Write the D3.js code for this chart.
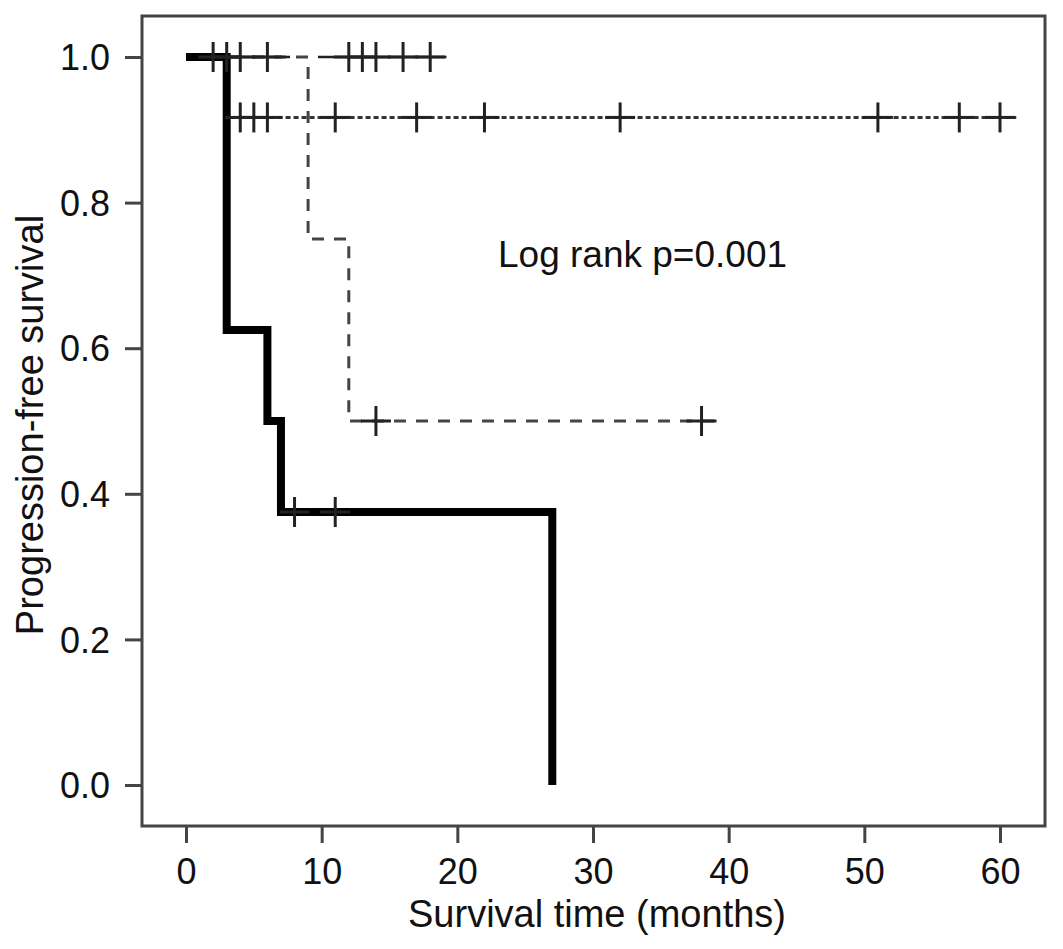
<!DOCTYPE html>
<html>
<head>
<meta charset="utf-8">
<script src="https://cdn.jsdelivr.net/npm/d3@7"></script>
<style>
  html, body { margin: 0; padding: 0; background: #fff; }
  svg text { font-family: "Liberation Sans", Helvetica, Arial, sans-serif; fill: #111; }
</style>
</head>
<body>
<div id="chart"></div>
<script>
// Kaplan-Meier steps per group: [time, survival]
const stepsThick = [[0, 1], [3, 0.625], [6, 0.5], [7, 0.375], [27, 0]];
const stepsDashed = [[0, 1], [9, 0.75], [12, 0.5]];
const stepsDotted = [[0, 1], [3, 0.917]];
const stepsThin = [[0, 1]];

// last follow-up time of each group
const endThick = 27;
const endDashed = 39.5;
const endDotted = 61.2;
const endThin = 19.2;

// censored times
const censorThick = [8, 11];
const censorDashed = [14, 38];
const censorDotted = [4, 5, 6, 11, 17, 22, 32, 51, 57, 60];
const censorThin = [2, 3, 4, 6, 12, 13, 14, 16, 18];

const xTicks = [0, 10, 20, 30, 40, 50, 60];
const yTicks = [0, 0.2, 0.4, 0.6, 0.8, 1.0];

const width = 1063, height = 949;
const box = { left: 142, right: 1045, top: 16, bottom: 826 };

const svg = d3.select("#chart")
  .append("svg")
  .attr("width", width)
  .attr("height", height);

const x = d3.scaleLinear().domain([0, 60]).range([186, 1000]);
const y = d3.scaleLinear().domain([0, 1]).range([785, 57]);

// step value at time t
const survAt = (steps, t) => {
  let s = steps[0][1];
  steps.forEach((d) => { if (d[0] <= t) s = d[1]; });
  return s;
};

const line = d3.line()
  .x((d) => x(d[0]))
  .y((d) => y(d[1]))
  .curve(d3.curveStepAfter);

const curves = [
  { steps: stepsDashed, end: endDashed, censor: censorDashed, width: 3, color: "#444", dash: "12,10" },
  { steps: stepsDotted, end: endDotted, censor: censorDotted, width: 3, color: "#333", dash: "5,3" },
  { steps: stepsThin, end: endThin, censor: censorThin, width: 2.5, color: "#222", dash: "104,28,400,30" },
  { steps: stepsThick, end: endThick, censor: censorThick, width: 8, color: "#000", dash: null },
];

curves.forEach((c) => {
  const pts = c.steps.slice();
  const last = pts[pts.length - 1];
  if (last[0] < c.end) pts.push([c.end, last[1]]);
  svg.append("path")
    .datum(pts)
    .attr("d", line)
    .attr("fill", "none")
    .attr("stroke", c.color)
    .attr("stroke-width", c.width)
    .attr("stroke-dasharray", c.dash);
});

// censor marks (+)
const half = 15;
curves.forEach((c) => {
  const g = svg.append("g").attr("stroke", "#222").attr("stroke-width", 3);
  c.censor.forEach((t) => {
    const cx = x(t), cy = y(survAt(c.steps, t));
    g.append("line").attr("x1", cx).attr("x2", cx).attr("y1", cy - half).attr("y2", cy + half);
    g.append("line").attr("x1", cx - half).attr("x2", cx + half).attr("y1", cy).attr("y2", cy);
  });
});

// frame
svg.append("rect")
  .attr("x", box.left)
  .attr("y", box.top)
  .attr("width", box.right - box.left)
  .attr("height", box.bottom - box.top)
  .attr("fill", "none")
  .attr("stroke", "#444")
  .attr("stroke-width", 3);

// x axis
const xAxis = svg.append("g")
  .attr("transform", `translate(0,${box.bottom})`)
  .call(d3.axisBottom(x).tickValues(xTicks).tickSize(17).tickFormat(d3.format("d")));
xAxis.select(".domain").remove();
xAxis.selectAll("line").attr("stroke", "#444").attr("stroke-width", 3);
xAxis.selectAll("text")
  .attr("y", 58).attr("dy", null)
  .style("font-size", "36px");

// y axis
const yAxis = svg.append("g")
  .attr("transform", `translate(${box.left},0)`)
  .call(d3.axisLeft(y).tickValues(yTicks).tickSize(17).tickFormat(d3.format(".1f")));
yAxis.select(".domain").remove();
yAxis.selectAll("line").attr("stroke", "#444").attr("stroke-width", 3);
yAxis.selectAll("text")
  .attr("x", -32).attr("dy", "0.35em")
  .style("font-size", "36px");

// titles
svg.append("text")
  .attr("x", 597)
  .attr("y", 927)
  .attr("text-anchor", "middle")
  .style("font-size", "38px")
  .text("Survival time (months)");

svg.append("text")
  .attr("transform", "translate(43,425) rotate(-90)")
  .attr("text-anchor", "middle")
  .style("font-size", "38px")
  .text("Progression-free survival");

svg.append("text")
  .attr("x", 498)
  .attr("y", 267)
  .style("font-size", "37px")
  .text("Log rank p=0.001");
</script>
</body>
</html>
